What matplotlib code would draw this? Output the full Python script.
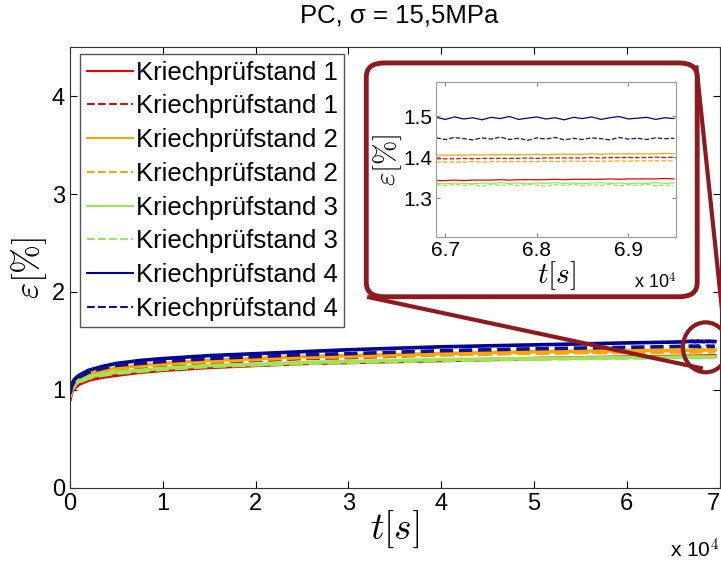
import matplotlib
matplotlib.use('Agg')
import matplotlib.pyplot as plt
import numpy as np
from matplotlib import rcParams
from matplotlib.patches import FancyBboxPatch, Ellipse
from matplotlib.lines import Line2D
from matplotlib.ticker import FuncFormatter

rcParams['font.family'] = ['Liberation Sans', 'DejaVu Sans']
rcParams['mathtext.fontset'] = 'cm'

# Zeitpunkte [s]
t = [0, 200, 500, 1000, 2000, 3500, 5000, 7500, 10000, 15000, 20000, 25000,
     30000, 40000, 50000, 60000, 66000,
     66900, 67000, 67100, 67200, 67300, 67400, 67500, 67600, 67700, 67800,
     67900, 68000, 68100, 68200, 68300, 68400, 68500, 68600, 68700, 68800,
     68900, 69000, 69100, 69200, 69300, 69400, 69500]

# Dehnung [%]
k1 = [0.90, 0.98, 1.02, 1.06, 1.10, 1.13, 1.15, 1.18, 1.20, 1.23, 1.25, 1.27,
      1.28, 1.30, 1.32, 1.335, 1.342,
      1.343, 1.343, 1.344, 1.343, 1.344, 1.344, 1.344, 1.345, 1.344, 1.345,
      1.345, 1.345, 1.345, 1.346, 1.345, 1.346, 1.346, 1.346, 1.346, 1.347,
      1.346, 1.347, 1.347, 1.347, 1.347, 1.348, 1.347]
k1d = [0.93, 1.01, 1.06, 1.10, 1.14, 1.18, 1.20, 1.23, 1.25, 1.28, 1.30, 1.32,
       1.33, 1.36, 1.38, 1.39, 1.395,
       1.396, 1.396, 1.396, 1.397, 1.396, 1.397, 1.397, 1.397, 1.397, 1.397,
       1.398, 1.397, 1.398, 1.398, 1.398, 1.398, 1.398, 1.399, 1.398, 1.399,
       1.399, 1.399, 1.399, 1.399, 1.400, 1.399, 1.400]
k2 = [0.95, 1.03, 1.08, 1.12, 1.16, 1.20, 1.22, 1.25, 1.27, 1.30, 1.32, 1.34,
      1.35, 1.37, 1.39, 1.40, 1.404,
      1.405, 1.405, 1.405, 1.405, 1.406, 1.405, 1.406, 1.406, 1.406, 1.406,
      1.406, 1.407, 1.406, 1.407, 1.407, 1.407, 1.407, 1.408, 1.407, 1.408,
      1.408, 1.408, 1.408, 1.408, 1.408, 1.409, 1.408]
k2d = [0.94, 1.02, 1.07, 1.11, 1.15, 1.19, 1.21, 1.24, 1.26, 1.29, 1.31, 1.33,
       1.34, 1.36, 1.375, 1.385, 1.387,
       1.388, 1.388, 1.388, 1.388, 1.389, 1.388, 1.389, 1.389, 1.389, 1.389,
       1.389, 1.389, 1.390, 1.389, 1.390, 1.390, 1.390, 1.390, 1.390, 1.390,
       1.391, 1.390, 1.391, 1.391, 1.391, 1.391, 1.391]
k3 = [0.94, 1.01, 1.05, 1.09, 1.13, 1.16, 1.18, 1.20, 1.22, 1.25, 1.26, 1.28,
      1.29, 1.31, 1.32, 1.33, 1.335,
      1.336, 1.335, 1.337, 1.336, 1.335, 1.337, 1.336, 1.338, 1.336, 1.337,
      1.335, 1.337, 1.336, 1.338, 1.336, 1.337, 1.335, 1.337, 1.338, 1.336,
      1.337, 1.335, 1.337, 1.336, 1.338, 1.336, 1.337]
k3d = [0.93, 1.00, 1.04, 1.08, 1.12, 1.15, 1.17, 1.19, 1.21, 1.24, 1.255, 1.27,
       1.28, 1.30, 1.315, 1.325, 1.331,
       1.333, 1.330, 1.334, 1.331, 1.333, 1.329, 1.334, 1.331, 1.333, 1.330,
       1.334, 1.332, 1.329, 1.333, 1.331, 1.334, 1.330, 1.333, 1.331, 1.334,
       1.330, 1.333, 1.331, 1.334, 1.330, 1.332, 1.330]
k4 = [0.98, 1.06, 1.11, 1.15, 1.20, 1.24, 1.27, 1.30, 1.32, 1.35, 1.37, 1.39,
      1.41, 1.44, 1.46, 1.48, 1.49,
      1.497, 1.492, 1.498, 1.493, 1.496, 1.491, 1.497, 1.494, 1.499, 1.492,
      1.495, 1.498, 1.493, 1.496, 1.491, 1.497, 1.494, 1.498, 1.492, 1.496,
      1.499, 1.493, 1.495, 1.497, 1.492, 1.496, 1.494]
k4d = [0.96, 1.04, 1.09, 1.13, 1.18, 1.22, 1.25, 1.27, 1.29, 1.32, 1.34, 1.36,
       1.37, 1.40, 1.42, 1.435, 1.444,
       1.447, 1.443, 1.448, 1.445, 1.442, 1.447, 1.444, 1.449, 1.443, 1.446,
       1.441, 1.447, 1.444, 1.448, 1.442, 1.446, 1.443, 1.447, 1.445, 1.442,
       1.448, 1.444, 1.446, 1.443, 1.447, 1.445, 1.446]

serien = [k1, k1d, k2, k2d, k3, k3d, k4, k4d]
farben = ['#ee0000', '#cc1010', '#ffa500', '#ffa500', '#99e65a', '#99e65a', '#00009a', '#10108a']
stile = ['-', '--', '-', '--', '-', '--', '-', '--']
namen = ['Kriechprüfstand 1', 'Kriechprüfstand 1', 'Kriechprüfstand 2', 'Kriechprüfstand 2',
         'Kriechprüfstand 3', 'Kriechprüfstand 3', 'Kriechprüfstand 4', 'Kriechprüfstand 4']

fig = plt.figure(figsize=(7.21, 5.62), dpi=100)
ax = fig.add_axes([0.097, 0.132, 0.901, 0.784])
for y, c, ls, n in zip(serien, farben, stile, namen):
    ax.plot(t, y, color=c, linestyle=ls, lw=2.6, label=n)
ax.set_xlim(0, 70000)
ax.set_ylim(0, 4.5)
ax.set_xticks([0, 10000, 20000, 30000, 40000, 50000, 60000, 70000])
ax.set_yticks([0, 1, 2, 3, 4])
ax.xaxis.set_major_formatter(FuncFormatter(lambda v, p: '%g' % (v / 1e4)))
ax.tick_params(axis='both', direction='in', top=True, right=True, labelsize=17, length=5)
ax.get_xticklabels()[-1].set_horizontalalignment('right')
for s in ax.spines.values():
    s.set_color('#333333')
ax.set_xlabel(r'$t[s]$', fontsize=27, labelpad=-4)
ax.set_ylabel(r'$\varepsilon[\%]$', fontsize=25, labelpad=2)
ax.text(1.0, -0.14, r'x 10$^4$', transform=ax.transAxes, ha='right', va='center', fontsize=15)
leg = ax.legend(loc='upper left', bbox_to_anchor=(0.012, 0.99), fontsize=18.5, handlelength=1.8,
                handletextpad=0.12, labelspacing=0.38, borderpad=0.25, borderaxespad=0.1,
                fancybox=False, framealpha=1)
leg.get_frame().set_edgecolor('#555555')
leg.get_frame().set_linewidth(1.0)
for h in leg.get_lines():
    h.set_linewidth(1.5)

dunkelrot = '#8c1a1e'
# Lupe
ax.add_patch(Ellipse((68500, 1.435), 4900, 0.51, fill=False, edgecolor=dunkelrot, lw=3, clip_on=False, zorder=5))

fig.add_artist(Line2D([0.966, 1.005], [0.88, 0.405], color=dunkelrot, lw=3, zorder=4))
fig.add_artist(Line2D([0.512, 0.972], [0.471, 0.345], color=dunkelrot, lw=3, zorder=4))
box = FancyBboxPatch((0.512, 0.476), 0.451, 0.408, boxstyle='round,pad=0.004,rounding_size=0.025',
                     transform=fig.transFigure, facecolor='white', edgecolor=dunkelrot, lw=3.5, zorder=6)
fig.add_artist(box)

axi = fig.add_axes([0.605, 0.578, 0.333, 0.276], zorder=7)
for y, c, ls in zip(serien, farben, stile):
    axi.plot(t, y, color=c, linestyle=ls, lw=0.9)
axi.set_xlim(66900, 69525)
axi.set_ylim(1.205, 1.583)
axi.set_xticks([67000, 68000, 69000])
axi.set_yticks([1.3, 1.4, 1.5])
axi.xaxis.set_major_formatter(FuncFormatter(lambda v, p: '%g' % (v / 1e4)))
axi.tick_params(axis='both', direction='in', top=True, right=True, labelsize=15, length=3, color='#888888',
                pad=3)
for s in axi.spines.values():
    s.set_color('#999999')
axi.set_xlabel(r'$t[s]$', fontsize=21, labelpad=-1)
axi.set_ylabel(r'$\varepsilon[\%]$', fontsize=21, labelpad=-1)
axi.text(1.0, -0.29, r'x 10$^4$', transform=axi.transAxes, ha='right', va='center', fontsize=13)

fig.text(0.553, 0.972, 'PC, σ = 15,5MPa', ha='center', va='center', fontsize=18.5)

fig.savefig('out.png', dpi=100)
